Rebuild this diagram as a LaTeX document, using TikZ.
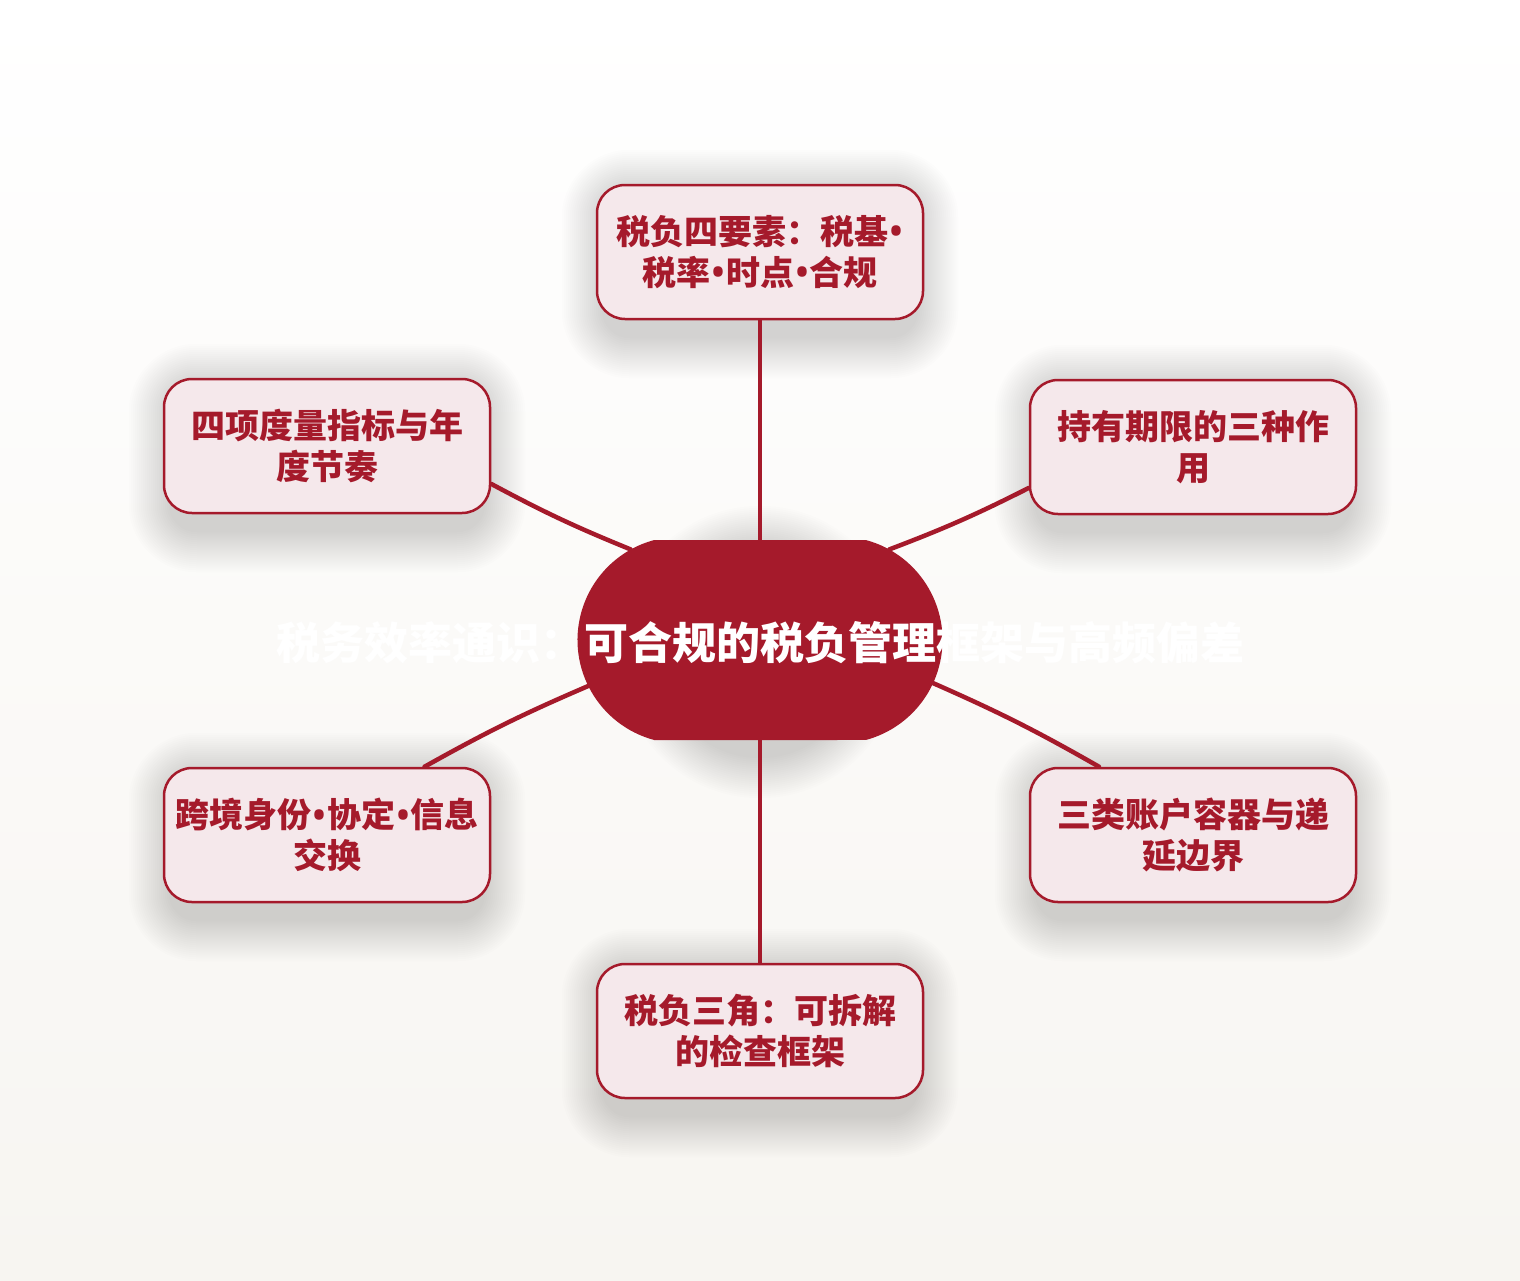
\documentclass[tikz,border=0pt]{standalone}
\usepackage{fontspec}
\setmainfont{Noto Sans CJK SC}
\newfontfamily\latinfont{Noto Sans}
\newcommand{\dotsep}{{\latinfont\bfseries\scalebox{1.25}{\raisebox{-2pt}{•}}}}
\usetikzlibrary{shapes.misc}
\pgfdeclarelayer{bgzero}
\pgfdeclarelayer{background}
\pgfsetlayers{bgzero,background,main}
\definecolor{darkred}{RGB}{165,26,43}
\definecolor{boxfill}{RGB}{245,232,235}
\definecolor{bgtop}{RGB}{255,255,255}
\definecolor{bgbot}{RGB}{247,245,241}
\tikzset{
  leafbox/.style={draw=darkred, line width=2.5pt, fill=boxfill, rounded corners=28pt,
    minimum width=326pt, minimum height=134pt, inner sep=0pt, align=center,
    text=darkred, font=\fontsize{34pt}{41pt}\selectfont\bfseries},
  hubshape/.style={rounded rectangle, fill=darkred, minimum width=365pt, minimum height=200pt,
    inner sep=0pt, rounded rectangle arc length=150},
  hubtext/.style={text=white, font=\fontsize{44pt}{50pt}\selectfont\bfseries, inner sep=0pt},
  link/.style={draw=darkred, line width=4.5pt, line cap=round},
  shadowlayer/.style={fill=black, fill opacity=0.008}
}
\begin{document}
\begin{tikzpicture}[x=1pt,y=-1pt]
\useasboundingbox (0,0) rectangle (1520,1280);
\begin{pgfonlayer}{bgzero}
\shade[top color=bgtop, bottom color=bgbot] (0,0) rectangle (1520,1280);
\end{pgfonlayer}

\node[hubshape] (c) at (760,640) {};
\node[leafbox] (t) at (760,252) {税负四要素：税基\dotsep\\税率\dotsep 时点\dotsep 合规};
\node[leafbox] (lu) at (327,446) {四项度量指标与年\\度节奏};
\node[leafbox] (ru) at (1193,447) {持有期限的三种作\\用};
\node[leafbox] (ll) at (327,835) {跨境身份\dotsep 协定\dotsep 信息\\交换};
\node[leafbox] (rl) at (1193,835) {三类账户容器与递\\延边界};
\node[leafbox] (b) at (760,1031) {税负三角：可拆解\\的检查框架};

\begin{pgfonlayer}{background}
\foreach \n in {t,lu,ru,ll,rl,b}{
  \foreach \i in {0,...,20}{
    \pgfmathsetmacro{\d}{\i*2}
    \fill[shadowlayer, rounded corners=28pt+\d pt]
      ([xshift=-\d pt+6pt, yshift=-18pt-\d pt]\n.south west) rectangle
      ([xshift=\d pt-6pt, yshift=-6pt+\d pt]\n.north east);
  }
}
\foreach \i in {0,...,20}{
  \pgfmathsetmacro{\d}{\i*2}
  \fill[shadowlayer, rounded corners=100pt+\d pt]
    ([xshift=-\d pt+6pt, yshift=-18pt-\d pt]c.south west) rectangle
    ([xshift=\d pt-6pt, yshift=-6pt+\d pt]c.north east);
}
\end{pgfonlayer}

\draw[link] (t.south) -- (c.north);
\draw[link] (lu.-13.5) to[bend right=3] (c.145);
\draw[link] (ru.-166.2) to[bend left=3] (c.35);
\draw[link] (ll.35.8) to[bend left=3] (c.-165.8);
\draw[link] (rl.144.8) to[bend right=3] (c.-14.1);
\draw[link] (c.south) -- (b.north);

\node[hubtext] (ct) at (760,643) {税务效率通识：可合规的税负管理框架与高频偏差};
\end{tikzpicture}
\end{document}
